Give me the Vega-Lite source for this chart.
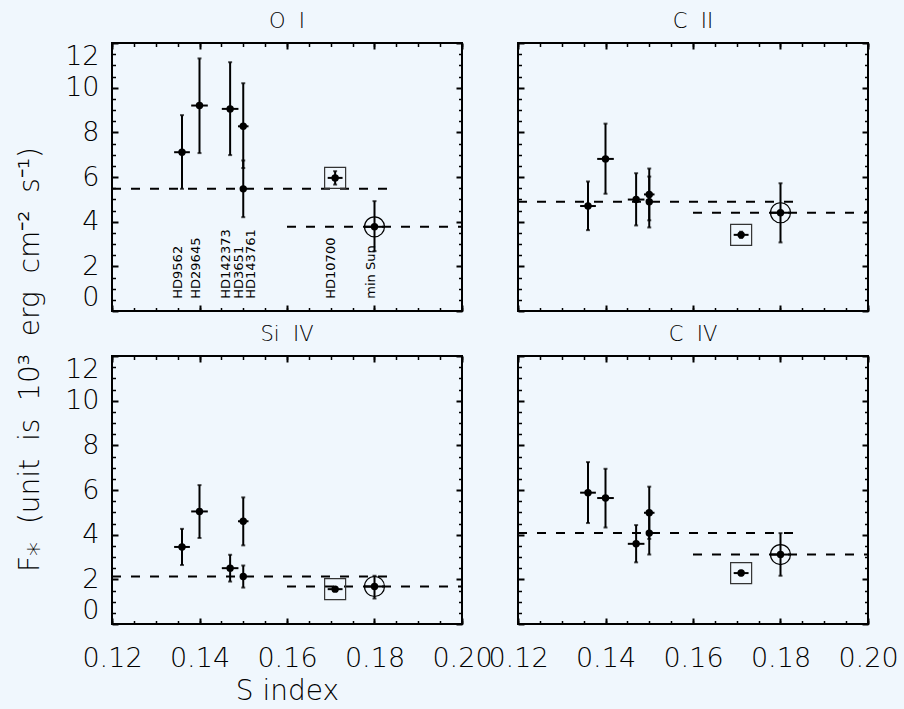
{
"$schema":"https://vega.github.io/schema/vega-lite/v6.json",
"background":"#f0f7fd",
"padding":{"left":15,"top":10,"right":5,"bottom":5},
"config":{
 "view":{"stroke":"black","strokeWidth":2},
 "axis":{"domain":false,"grid":false,"tickColor":"black","tickWidth":2,"labelFont":"DejaVu Sans","labelFontSize":27,"labelFontWeight":200,"labelColor":"black","titleFont":"DejaVu Sans","titleFontSize":28,"titleFontWeight":200,"titleColor":"black","labelOverlap":false,"labelFlush":false},
 "title":{"font":"DejaVu Sans","fontSize":21,"fontWeight":200,"color":"black","offset":10,"anchor":"middle"}
},
"datasets":{
"pts":[
{"line":"O I","star":"HD9562","s":0.136,"slo":0.1342,"shi":0.1378,"f":7.11,"flo":5.47,"fhi":8.77},
{"line":"O I","star":"HD29645","s":0.140,"slo":0.1381,"shi":0.1419,"f":9.20,"flo":7.07,"fhi":11.31},
{"line":"O I","star":"HD142373","s":0.147,"slo":0.1451,"shi":0.1489,"f":9.05,"flo":6.98,"fhi":11.14},
{"line":"O I","star":"HD3651","s":0.150,"slo":0.1488,"shi":0.1512,"f":8.27,"flo":6.40,"fhi":10.20},
{"line":"O I","star":"HD143761","s":0.150,"slo":0.1497,"shi":0.1503,"f":5.47,"flo":4.20,"fhi":6.74},
{"line":"O I","star":"HD10700","s":0.171,"slo":0.1693,"shi":0.1727,"f":5.96,"flo":5.66,"fhi":6.26},
{"line":"O I","star":"min Sun","s":0.180,"slo":0.1777,"shi":0.1823,"f":3.77,"flo":2.68,"fhi":4.92},
{"line":"C II","star":"HD9562","s":0.136,"slo":0.1342,"shi":0.1378,"f":4.70,"flo":3.62,"fhi":5.80},
{"line":"C II","star":"HD29645","s":0.140,"slo":0.1381,"shi":0.1419,"f":6.81,"flo":5.25,"fhi":8.39},
{"line":"C II","star":"HD142373","s":0.147,"slo":0.1451,"shi":0.1489,"f":4.99,"flo":3.83,"fhi":6.17},
{"line":"C II","star":"HD3651","s":0.150,"slo":0.1488,"shi":0.1512,"f":5.22,"flo":4.06,"fhi":6.38},
{"line":"C II","star":"HD143761","s":0.150,"slo":0.1497,"shi":0.1503,"f":4.89,"flo":3.74,"fhi":6.02},
{"line":"C II","star":"HD10700","s":0.171,"slo":0.1693,"shi":0.1727,"f":3.41,"flo":3.27,"fhi":3.55},
{"line":"C II","star":"min Sun","s":0.180,"slo":0.1777,"shi":0.1823,"f":4.40,"flo":3.07,"fhi":5.72},
{"line":"Si IV","star":"HD9562","s":0.136,"slo":0.1342,"shi":0.1378,"f":3.45,"flo":2.64,"fhi":4.26},
{"line":"Si IV","star":"HD29645","s":0.140,"slo":0.1381,"shi":0.1419,"f":5.04,"flo":3.85,"fhi":6.22},
{"line":"Si IV","star":"HD142373","s":0.147,"slo":0.1451,"shi":0.1489,"f":2.50,"flo":1.90,"fhi":3.10},
{"line":"Si IV","star":"HD3651","s":0.150,"slo":0.1488,"shi":0.1512,"f":4.60,"flo":3.52,"fhi":5.67},
{"line":"Si IV","star":"HD143761","s":0.150,"slo":0.1497,"shi":0.1503,"f":2.13,"flo":1.63,"fhi":2.62},
{"line":"Si IV","star":"HD10700","s":0.171,"slo":0.1693,"shi":0.1727,"f":1.56,"flo":1.48,"fhi":1.64},
{"line":"Si IV","star":"min Sun","s":0.180,"slo":0.1777,"shi":0.1823,"f":1.68,"flo":1.14,"fhi":2.16},
{"line":"C IV","star":"HD9562","s":0.136,"slo":0.1342,"shi":0.1378,"f":5.88,"flo":4.52,"fhi":7.25},
{"line":"C IV","star":"HD29645","s":0.140,"slo":0.1381,"shi":0.1419,"f":5.64,"flo":4.32,"fhi":6.95},
{"line":"C IV","star":"HD142373","s":0.147,"slo":0.1451,"shi":0.1489,"f":3.59,"flo":2.76,"fhi":4.43},
{"line":"C IV","star":"HD3651","s":0.150,"slo":0.1488,"shi":0.1512,"f":4.98,"flo":3.81,"fhi":6.15},
{"line":"C IV","star":"HD143761","s":0.150,"slo":0.1497,"shi":0.1503,"f":4.07,"flo":3.11,"fhi":5.03},
{"line":"C IV","star":"HD10700","s":0.171,"slo":0.1693,"shi":0.1727,"f":2.28,"flo":2.18,"fhi":2.38},
{"line":"C IV","star":"min Sun","s":0.180,"slo":0.1777,"shi":0.1823,"f":3.11,"flo":2.16,"fhi":4.07}
],
"lines":[
{"line":"O I","kind":"active","s1":0.12,"s2":0.185,"f":5.47},
{"line":"O I","kind":"min Sun","s1":0.16,"s2":0.20,"f":3.77},
{"line":"C II","kind":"active","s1":0.12,"s2":0.185,"f":4.89},
{"line":"C II","kind":"min Sun","s1":0.16,"s2":0.20,"f":4.40},
{"line":"Si IV","kind":"active","s1":0.12,"s2":0.185,"f":2.13},
{"line":"Si IV","kind":"min Sun","s1":0.16,"s2":0.20,"f":1.68},
{"line":"C IV","kind":"active","s1":0.12,"s2":0.185,"f":4.07},
{"line":"C IV","kind":"min Sun","s1":0.16,"s2":0.20,"f":3.11}
]
},
"columns":2,
"spacing":{"row":45,"column":56},
"bounds":"flush",
"concat":[
{"width":350,"height":268,"title":{"text":"O\u00a0\u00a0I"},
 "data":{"name":"pts"},"transform":[{"filter":"datum.line==='O I'"}],
 "resolve":{"axis":{"x":"independent","y":"independent"}},
 "layer":[
  {"data":{"name":"lines"},"transform":[{"filter":"datum.line==='O I'"}],
   "mark":{"type":"rule","strokeDash":[9,10],"strokeWidth":2,"color":"black"},
   "encoding":{
    "x":{"field":"s1","type":"quantitative","scale":{"domain":[0.12,0.2],"nice":false,"zero":false},"axis":{"orient":"bottom","values":[0.12,0.14,0.16,0.18,0.2],"tickSize":-6,"labels":false,"title":null}},
    "x2":{"field":"s2"},
    "y":{"field":"f","type":"quantitative","scale":{"domain":[0,12],"nice":false,"zero":false},"axis":{"orient":"left","values":[0,2,4,6,8,10,12],"tickSize":-6,"labelPadding":19,"labelFlush":true,"title":"F\u204e \u00a0(unit \u00a0is \u00a010\u00b3 \u00a0erg \u00a0cm\u207b\u00b2 \u00a0s\u207b\u00b9)","titleX":-82,"titleY":316,"titleBaseline":"middle","titleAngle":270}}}},
  {"mark":{"type":"rule","strokeWidth":2,"color":"black"},
   "encoding":{
    "x":{"field":"s","type":"quantitative","scale":{"domain":[0.12,0.2],"nice":false,"zero":false},"axis":{"orient":"bottom","values":[0.12,0.125,0.13,0.135,0.14,0.145,0.15,0.155,0.16,0.165,0.17,0.175,0.18,0.185,0.19,0.195,0.2],"tickSize":-3.5,"tickWidth":1.5,"labels":false,"title":null}},
    "y":{"field":"flo","type":"quantitative","scale":{"domain":[0,12],"nice":false,"zero":false},"axis":{"orient":"left","values":[0.5,1,1.5,2.5,3,3.5,4.5,5,5.5,6.5,7,7.5,8.5,9,9.5,10.5,11,11.5],"tickSize":-3.5,"tickWidth":1.5,"labels":false,"title":null}},
    "y2":{"field":"fhi"}}},
  {"mark":{"type":"rule","strokeWidth":2,"color":"black"},
   "encoding":{
    "x":{"field":"slo","type":"quantitative","scale":{"domain":[0.12,0.2],"nice":false,"zero":false},"axis":{"orient":"top","values":[0.12,0.14,0.16,0.18,0.2],"tickSize":-6,"labels":false,"title":null}},
    "x2":{"field":"shi"},
    "y":{"field":"f","type":"quantitative","scale":{"domain":[0,12],"nice":false,"zero":false},"axis":{"orient":"right","values":[0,2,4,6,8,10,12],"tickSize":-6,"labels":false,"title":null}}}},
  {"mark":{"type":"tick","orient":"horizontal","size":4,"thickness":2,"color":"black"},
   "encoding":{
    "x":{"field":"s","type":"quantitative","scale":{"domain":[0.12,0.2],"nice":false,"zero":false},"axis":{"orient":"top","values":[0.12,0.125,0.13,0.135,0.14,0.145,0.15,0.155,0.16,0.165,0.17,0.175,0.18,0.185,0.19,0.195,0.2],"tickSize":-3.5,"tickWidth":1.5,"labels":false,"title":null}},
    "y":{"field":"flo","type":"quantitative","scale":{"domain":[0,12],"nice":false,"zero":false},"axis":{"orient":"right","values":[0.5,1,1.5,2.5,3,3.5,4.5,5,5.5,6.5,7,7.5,8.5,9,9.5,10.5,11,11.5],"tickSize":-3.5,"tickWidth":1.5,"labels":false,"title":null}}}},
  {"mark":{"type":"tick","orient":"horizontal","size":4,"thickness":2,"color":"black"},
   "encoding":{
    "x":{"field":"s","type":"quantitative","scale":{"domain":[0.12,0.2],"nice":false,"zero":false},"axis":null},
    "y":{"field":"fhi","type":"quantitative","scale":{"domain":[0,12],"nice":false,"zero":false},"axis":null}}},
  {"mark":{"type":"point","filled":true,"shape":"circle","size":55,"color":"black","opacity":1},
   "encoding":{
    "x":{"field":"s","type":"quantitative","scale":{"domain":[0.12,0.2],"nice":false,"zero":false},"axis":null},
    "y":{"field":"f","type":"quantitative","scale":{"domain":[0,12],"nice":false,"zero":false},"axis":null}}},
  {"transform":[{"filter":"datum.star==='HD10700'"}],
   "mark":{"type":"point","filled":false,"shape":"square","size":441,"stroke":"#333333","strokeWidth":1.2,"opacity":1},
   "encoding":{
    "x":{"field":"s","type":"quantitative","scale":{"domain":[0.12,0.2],"nice":false,"zero":false},"axis":null},
    "y":{"field":"f","type":"quantitative","scale":{"domain":[0,12],"nice":false,"zero":false},"axis":null}}},
  {"transform":[{"filter":"datum.star==='min Sun'"}],
   "mark":{"type":"point","filled":false,"shape":"circle","size":400,"stroke":"black","strokeWidth":1.2,"opacity":1},
   "encoding":{
    "x":{"field":"s","type":"quantitative","scale":{"domain":[0.12,0.2],"nice":false,"zero":false},"axis":null},
    "y":{"field":"f","type":"quantitative","scale":{"domain":[0,12],"nice":false,"zero":false},"axis":null}}},
  {"transform":[{"filter":"datum.star!=='HD143761'"}],
   "mark":{"type":"text","angle":270,"align":"left","baseline":"alphabetic","font":"DejaVu Sans","fontSize":13,"color":"black"},
   "encoding":{
    "x":{"field":"s","type":"quantitative","scale":{"domain":[0.12,0.2],"nice":false,"zero":false},"axis":null},
    "y":{"datum":0.55,"type":"quantitative","scale":{"domain":[0,12],"nice":false,"zero":false},"axis":null},
    "text":{"field":"star"}}},
  {"transform":[{"filter":"datum.star==='HD143761'"}],
   "mark":{"type":"text","angle":270,"align":"left","baseline":"alphabetic","font":"DejaVu Sans","fontSize":13,"color":"black","dy":12},
   "encoding":{
    "x":{"field":"s","type":"quantitative","scale":{"domain":[0.12,0.2],"nice":false,"zero":false},"axis":null},
    "y":{"datum":0.55,"type":"quantitative","scale":{"domain":[0,12],"nice":false,"zero":false},"axis":null},
    "text":{"field":"star"}}}
 ]},
{"width":350,"height":268,"title":{"text":"C\u00a0\u00a0II"},
 "data":{"name":"pts"},"transform":[{"filter":"datum.line==='C II'"}],
 "resolve":{"axis":{"x":"independent","y":"independent"}},
 "layer":[
  {"data":{"name":"lines"},"transform":[{"filter":"datum.line==='C II'"}],
   "mark":{"type":"rule","strokeDash":[9,10],"strokeWidth":2,"color":"black"},
   "encoding":{
    "x":{"field":"s1","type":"quantitative","scale":{"domain":[0.12,0.2],"nice":false,"zero":false},"axis":{"orient":"bottom","values":[0.12,0.14,0.16,0.18,0.2],"tickSize":-6,"labels":false,"title":null}},
    "x2":{"field":"s2"},
    "y":{"field":"f","type":"quantitative","scale":{"domain":[0,12],"nice":false,"zero":false},"axis":{"orient":"left","values":[0,2,4,6,8,10,12],"tickSize":-6,"labels":false,"title":null}}}},
  {"mark":{"type":"rule","strokeWidth":2,"color":"black"},
   "encoding":{
    "x":{"field":"s","type":"quantitative","scale":{"domain":[0.12,0.2],"nice":false,"zero":false},"axis":{"orient":"bottom","values":[0.12,0.125,0.13,0.135,0.14,0.145,0.15,0.155,0.16,0.165,0.17,0.175,0.18,0.185,0.19,0.195,0.2],"tickSize":-3.5,"tickWidth":1.5,"labels":false,"title":null}},
    "y":{"field":"flo","type":"quantitative","scale":{"domain":[0,12],"nice":false,"zero":false},"axis":{"orient":"left","values":[0.5,1,1.5,2.5,3,3.5,4.5,5,5.5,6.5,7,7.5,8.5,9,9.5,10.5,11,11.5],"tickSize":-3.5,"tickWidth":1.5,"labels":false,"title":null}},
    "y2":{"field":"fhi"}}},
  {"mark":{"type":"rule","strokeWidth":2,"color":"black"},
   "encoding":{
    "x":{"field":"slo","type":"quantitative","scale":{"domain":[0.12,0.2],"nice":false,"zero":false},"axis":{"orient":"top","values":[0.12,0.14,0.16,0.18,0.2],"tickSize":-6,"labels":false,"title":null}},
    "x2":{"field":"shi"},
    "y":{"field":"f","type":"quantitative","scale":{"domain":[0,12],"nice":false,"zero":false},"axis":{"orient":"right","values":[0,2,4,6,8,10,12],"tickSize":-6,"labels":false,"title":null}}}},
  {"mark":{"type":"tick","orient":"horizontal","size":4,"thickness":2,"color":"black"},
   "encoding":{
    "x":{"field":"s","type":"quantitative","scale":{"domain":[0.12,0.2],"nice":false,"zero":false},"axis":{"orient":"top","values":[0.12,0.125,0.13,0.135,0.14,0.145,0.15,0.155,0.16,0.165,0.17,0.175,0.18,0.185,0.19,0.195,0.2],"tickSize":-3.5,"tickWidth":1.5,"labels":false,"title":null}},
    "y":{"field":"flo","type":"quantitative","scale":{"domain":[0,12],"nice":false,"zero":false},"axis":{"orient":"right","values":[0.5,1,1.5,2.5,3,3.5,4.5,5,5.5,6.5,7,7.5,8.5,9,9.5,10.5,11,11.5],"tickSize":-3.5,"tickWidth":1.5,"labels":false,"title":null}}}},
  {"mark":{"type":"tick","orient":"horizontal","size":4,"thickness":2,"color":"black"},
   "encoding":{
    "x":{"field":"s","type":"quantitative","scale":{"domain":[0.12,0.2],"nice":false,"zero":false},"axis":null},
    "y":{"field":"fhi","type":"quantitative","scale":{"domain":[0,12],"nice":false,"zero":false},"axis":null}}},
  {"mark":{"type":"point","filled":true,"shape":"circle","size":55,"color":"black","opacity":1},
   "encoding":{
    "x":{"field":"s","type":"quantitative","scale":{"domain":[0.12,0.2],"nice":false,"zero":false},"axis":null},
    "y":{"field":"f","type":"quantitative","scale":{"domain":[0,12],"nice":false,"zero":false},"axis":null}}},
  {"transform":[{"filter":"datum.star==='HD10700'"}],
   "mark":{"type":"point","filled":false,"shape":"square","size":441,"stroke":"#333333","strokeWidth":1.2,"opacity":1},
   "encoding":{
    "x":{"field":"s","type":"quantitative","scale":{"domain":[0.12,0.2],"nice":false,"zero":false},"axis":null},
    "y":{"field":"f","type":"quantitative","scale":{"domain":[0,12],"nice":false,"zero":false},"axis":null}}},
  {"transform":[{"filter":"datum.star==='min Sun'"}],
   "mark":{"type":"point","filled":false,"shape":"circle","size":400,"stroke":"black","strokeWidth":1.2,"opacity":1},
   "encoding":{
    "x":{"field":"s","type":"quantitative","scale":{"domain":[0.12,0.2],"nice":false,"zero":false},"axis":null},
    "y":{"field":"f","type":"quantitative","scale":{"domain":[0,12],"nice":false,"zero":false},"axis":null}}}
 ]},
{"width":350,"height":268,"title":{"text":"Si\u00a0\u00a0IV"},
 "data":{"name":"pts"},"transform":[{"filter":"datum.line==='Si IV'"}],
 "resolve":{"axis":{"x":"independent","y":"independent"}},
 "layer":[
  {"data":{"name":"lines"},"transform":[{"filter":"datum.line==='Si IV'"}],
   "mark":{"type":"rule","strokeDash":[9,10],"strokeWidth":2,"color":"black"},
   "encoding":{
    "x":{"field":"s1","type":"quantitative","scale":{"domain":[0.12,0.2],"nice":false,"zero":false},"axis":{"orient":"bottom","values":[0.12,0.14,0.16,0.18,0.2],"format":".2f","tickSize":-6,"labelPadding":27,"title":"S index","titlePadding":6}},
    "x2":{"field":"s2"},
    "y":{"field":"f","type":"quantitative","scale":{"domain":[0,12],"nice":false,"zero":false},"axis":{"orient":"left","values":[0,2,4,6,8,10,12],"tickSize":-6,"labelPadding":19,"labelFlush":true,"title":null}}}},
  {"mark":{"type":"rule","strokeWidth":2,"color":"black"},
   "encoding":{
    "x":{"field":"s","type":"quantitative","scale":{"domain":[0.12,0.2],"nice":false,"zero":false},"axis":{"orient":"bottom","values":[0.12,0.125,0.13,0.135,0.14,0.145,0.15,0.155,0.16,0.165,0.17,0.175,0.18,0.185,0.19,0.195,0.2],"tickSize":-3.5,"tickWidth":1.5,"labels":false,"title":null}},
    "y":{"field":"flo","type":"quantitative","scale":{"domain":[0,12],"nice":false,"zero":false},"axis":{"orient":"left","values":[0.5,1,1.5,2.5,3,3.5,4.5,5,5.5,6.5,7,7.5,8.5,9,9.5,10.5,11,11.5],"tickSize":-3.5,"tickWidth":1.5,"labels":false,"title":null}},
    "y2":{"field":"fhi"}}},
  {"mark":{"type":"rule","strokeWidth":2,"color":"black"},
   "encoding":{
    "x":{"field":"slo","type":"quantitative","scale":{"domain":[0.12,0.2],"nice":false,"zero":false},"axis":{"orient":"top","values":[0.12,0.14,0.16,0.18,0.2],"tickSize":-6,"labels":false,"title":null}},
    "x2":{"field":"shi"},
    "y":{"field":"f","type":"quantitative","scale":{"domain":[0,12],"nice":false,"zero":false},"axis":{"orient":"right","values":[0,2,4,6,8,10,12],"tickSize":-6,"labels":false,"title":null}}}},
  {"mark":{"type":"tick","orient":"horizontal","size":4,"thickness":2,"color":"black"},
   "encoding":{
    "x":{"field":"s","type":"quantitative","scale":{"domain":[0.12,0.2],"nice":false,"zero":false},"axis":{"orient":"top","values":[0.12,0.125,0.13,0.135,0.14,0.145,0.15,0.155,0.16,0.165,0.17,0.175,0.18,0.185,0.19,0.195,0.2],"tickSize":-3.5,"tickWidth":1.5,"labels":false,"title":null}},
    "y":{"field":"flo","type":"quantitative","scale":{"domain":[0,12],"nice":false,"zero":false},"axis":{"orient":"right","values":[0.5,1,1.5,2.5,3,3.5,4.5,5,5.5,6.5,7,7.5,8.5,9,9.5,10.5,11,11.5],"tickSize":-3.5,"tickWidth":1.5,"labels":false,"title":null}}}},
  {"mark":{"type":"tick","orient":"horizontal","size":4,"thickness":2,"color":"black"},
   "encoding":{
    "x":{"field":"s","type":"quantitative","scale":{"domain":[0.12,0.2],"nice":false,"zero":false},"axis":null},
    "y":{"field":"fhi","type":"quantitative","scale":{"domain":[0,12],"nice":false,"zero":false},"axis":null}}},
  {"mark":{"type":"point","filled":true,"shape":"circle","size":55,"color":"black","opacity":1},
   "encoding":{
    "x":{"field":"s","type":"quantitative","scale":{"domain":[0.12,0.2],"nice":false,"zero":false},"axis":null},
    "y":{"field":"f","type":"quantitative","scale":{"domain":[0,12],"nice":false,"zero":false},"axis":null}}},
  {"transform":[{"filter":"datum.star==='HD10700'"}],
   "mark":{"type":"point","filled":false,"shape":"square","size":441,"stroke":"#333333","strokeWidth":1.2,"opacity":1},
   "encoding":{
    "x":{"field":"s","type":"quantitative","scale":{"domain":[0.12,0.2],"nice":false,"zero":false},"axis":null},
    "y":{"field":"f","type":"quantitative","scale":{"domain":[0,12],"nice":false,"zero":false},"axis":null}}},
  {"transform":[{"filter":"datum.star==='min Sun'"}],
   "mark":{"type":"point","filled":false,"shape":"circle","size":400,"stroke":"black","strokeWidth":1.2,"opacity":1},
   "encoding":{
    "x":{"field":"s","type":"quantitative","scale":{"domain":[0.12,0.2],"nice":false,"zero":false},"axis":null},
    "y":{"field":"f","type":"quantitative","scale":{"domain":[0,12],"nice":false,"zero":false},"axis":null}}}
 ]},
{"width":350,"height":268,"title":{"text":"C\u00a0\u00a0IV"},
 "data":{"name":"pts"},"transform":[{"filter":"datum.line==='C IV'"}],
 "resolve":{"axis":{"x":"independent","y":"independent"}},
 "layer":[
  {"data":{"name":"lines"},"transform":[{"filter":"datum.line==='C IV'"}],
   "mark":{"type":"rule","strokeDash":[9,10],"strokeWidth":2,"color":"black"},
   "encoding":{
    "x":{"field":"s1","type":"quantitative","scale":{"domain":[0.12,0.2],"nice":false,"zero":false},"axis":{"orient":"bottom","values":[0.12,0.14,0.16,0.18,0.2],"format":".2f","tickSize":-6,"labelPadding":27,"title":null}},
    "x2":{"field":"s2"},
    "y":{"field":"f","type":"quantitative","scale":{"domain":[0,12],"nice":false,"zero":false},"axis":{"orient":"left","values":[0,2,4,6,8,10,12],"tickSize":-6,"labels":false,"title":null}}}},
  {"mark":{"type":"rule","strokeWidth":2,"color":"black"},
   "encoding":{
    "x":{"field":"s","type":"quantitative","scale":{"domain":[0.12,0.2],"nice":false,"zero":false},"axis":{"orient":"bottom","values":[0.12,0.125,0.13,0.135,0.14,0.145,0.15,0.155,0.16,0.165,0.17,0.175,0.18,0.185,0.19,0.195,0.2],"tickSize":-3.5,"tickWidth":1.5,"labels":false,"title":null}},
    "y":{"field":"flo","type":"quantitative","scale":{"domain":[0,12],"nice":false,"zero":false},"axis":{"orient":"left","values":[0.5,1,1.5,2.5,3,3.5,4.5,5,5.5,6.5,7,7.5,8.5,9,9.5,10.5,11,11.5],"tickSize":-3.5,"tickWidth":1.5,"labels":false,"title":null}},
    "y2":{"field":"fhi"}}},
  {"mark":{"type":"rule","strokeWidth":2,"color":"black"},
   "encoding":{
    "x":{"field":"slo","type":"quantitative","scale":{"domain":[0.12,0.2],"nice":false,"zero":false},"axis":{"orient":"top","values":[0.12,0.14,0.16,0.18,0.2],"tickSize":-6,"labels":false,"title":null}},
    "x2":{"field":"shi"},
    "y":{"field":"f","type":"quantitative","scale":{"domain":[0,12],"nice":false,"zero":false},"axis":{"orient":"right","values":[0,2,4,6,8,10,12],"tickSize":-6,"labels":false,"title":null}}}},
  {"mark":{"type":"tick","orient":"horizontal","size":4,"thickness":2,"color":"black"},
   "encoding":{
    "x":{"field":"s","type":"quantitative","scale":{"domain":[0.12,0.2],"nice":false,"zero":false},"axis":{"orient":"top","values":[0.12,0.125,0.13,0.135,0.14,0.145,0.15,0.155,0.16,0.165,0.17,0.175,0.18,0.185,0.19,0.195,0.2],"tickSize":-3.5,"tickWidth":1.5,"labels":false,"title":null}},
    "y":{"field":"flo","type":"quantitative","scale":{"domain":[0,12],"nice":false,"zero":false},"axis":{"orient":"right","values":[0.5,1,1.5,2.5,3,3.5,4.5,5,5.5,6.5,7,7.5,8.5,9,9.5,10.5,11,11.5],"tickSize":-3.5,"tickWidth":1.5,"labels":false,"title":null}}}},
  {"mark":{"type":"tick","orient":"horizontal","size":4,"thickness":2,"color":"black"},
   "encoding":{
    "x":{"field":"s","type":"quantitative","scale":{"domain":[0.12,0.2],"nice":false,"zero":false},"axis":null},
    "y":{"field":"fhi","type":"quantitative","scale":{"domain":[0,12],"nice":false,"zero":false},"axis":null}}},
  {"mark":{"type":"point","filled":true,"shape":"circle","size":55,"color":"black","opacity":1},
   "encoding":{
    "x":{"field":"s","type":"quantitative","scale":{"domain":[0.12,0.2],"nice":false,"zero":false},"axis":null},
    "y":{"field":"f","type":"quantitative","scale":{"domain":[0,12],"nice":false,"zero":false},"axis":null}}},
  {"transform":[{"filter":"datum.star==='HD10700'"}],
   "mark":{"type":"point","filled":false,"shape":"square","size":441,"stroke":"#333333","strokeWidth":1.2,"opacity":1},
   "encoding":{
    "x":{"field":"s","type":"quantitative","scale":{"domain":[0.12,0.2],"nice":false,"zero":false},"axis":null},
    "y":{"field":"f","type":"quantitative","scale":{"domain":[0,12],"nice":false,"zero":false},"axis":null}}},
  {"transform":[{"filter":"datum.star==='min Sun'"}],
   "mark":{"type":"point","filled":false,"shape":"circle","size":400,"stroke":"black","strokeWidth":1.2,"opacity":1},
   "encoding":{
    "x":{"field":"s","type":"quantitative","scale":{"domain":[0.12,0.2],"nice":false,"zero":false},"axis":null},
    "y":{"field":"f","type":"quantitative","scale":{"domain":[0,12],"nice":false,"zero":false},"axis":null}}}
 ]}
]
}
